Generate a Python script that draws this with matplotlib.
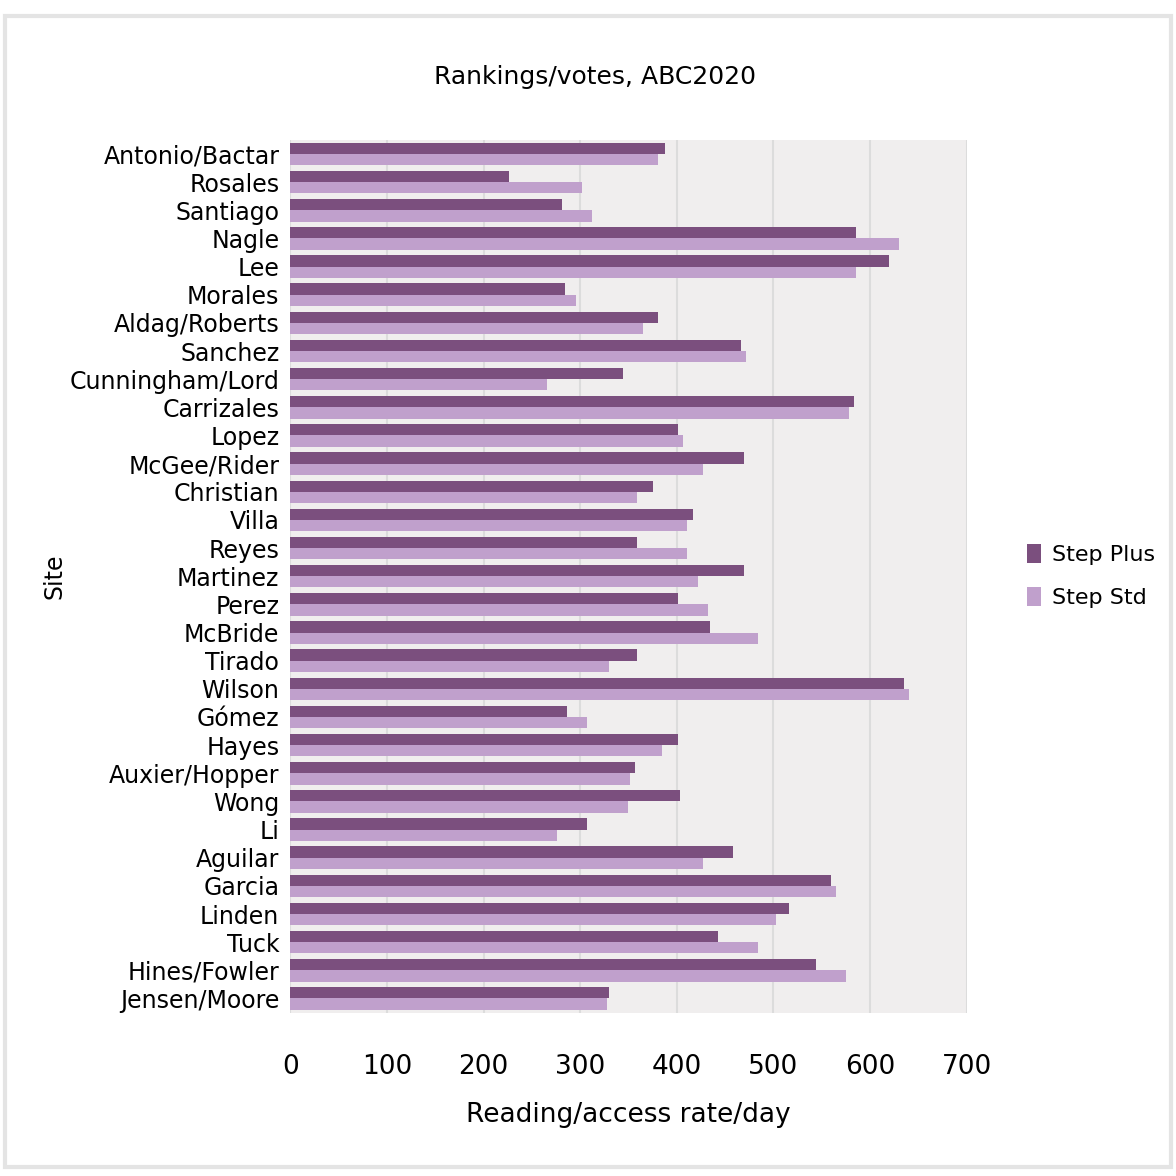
import matplotlib.pyplot as plt
import numpy as np
from matplotlib.patches import Rectangle

# Sites, top to bottom
sites = ['Antonio/Bactar', 'Rosales', 'Santiago', 'Nagle', 'Lee', 'Morales',
         'Aldag/Roberts', 'Sanchez', 'Cunningham/Lord', 'Carrizales', 'Lopez',
         'McGee/Rider', 'Christian', 'Villa', 'Reyes', 'Martinez', 'Perez',
         'McBride', 'Tirado', 'Wilson', 'Gómez', 'Hayes', 'Auxier/Hopper',
         'Wong', 'Li', 'Aguilar', 'Garcia', 'Linden', 'Tuck', 'Hines/Fowler',
         'Jensen/Moore']

step_plus = [388, 226, 281, 585, 620, 284, 380, 466, 344, 583, 401, 469, 375,
             417, 359, 469, 401, 434, 359, 635, 286, 401, 357, 403, 307, 458,
             560, 516, 443, 544, 330]
step_std = [380, 302, 312, 630, 585, 296, 365, 472, 266, 578, 406, 427, 359,
            411, 411, 422, 432, 484, 330, 640, 307, 385, 351, 349, 276, 427,
            565, 503, 484, 575, 328]

series_names = ['Step Plus', 'Step Std']
xticks = [0, 100, 200, 300, 400, 500, 600, 700]

fig = plt.figure(figsize=(11.76, 11.76), dpi=100)
ax = fig.add_axes([0.247, 0.139, 0.575, 0.742])

y = np.arange(len(sites))
h = 0.4
ax.barh(y - h / 2, step_plus, height=h, color='#7b4f7e', label=series_names[0])
ax.barh(y + h / 2, step_std, height=h, color='#c0a0cc', label=series_names[1])

ax.set_ylim(len(sites) - 0.5, -0.5)
ax.set_xlim(0, 700)
ax.set_yticks(y)
ax.set_yticklabels(sites, fontsize=17)
ax.set_xticks(xticks)
ax.set_xticklabels([str(t) for t in xticks], fontsize=19)
ax.tick_params(axis='x', length=0, pad=30)
ax.tick_params(axis='y', length=0, pad=8)

ax.set_facecolor('#f0eeee')
ax.grid(axis='x', color='#dcdcdc', linewidth=1.5)
ax.set_axisbelow(True)
for s in ax.spines.values():
    s.set_visible(False)

ax.set_title('Rankings/votes, ABC2020', fontsize=18, pad=40, x=0.45)
ax.set_xlabel('Reading/access rate/day', fontsize=19, labelpad=16)
ax.set_ylabel('Site', fontsize=17, labelpad=2)

ax.legend(loc='center left', bbox_to_anchor=(1.06, 0.5), frameon=False,
          fontsize=16, handlelength=0.6, handleheight=0.9, labelspacing=1.0,
          handletextpad=0.5)

fig.patches.append(Rectangle((0.004, 0.008), 0.992, 0.978, transform=fig.transFigure,
                             fill=False, edgecolor='#e4e4e4', linewidth=3))

fig.savefig('out.png', dpi=100)
